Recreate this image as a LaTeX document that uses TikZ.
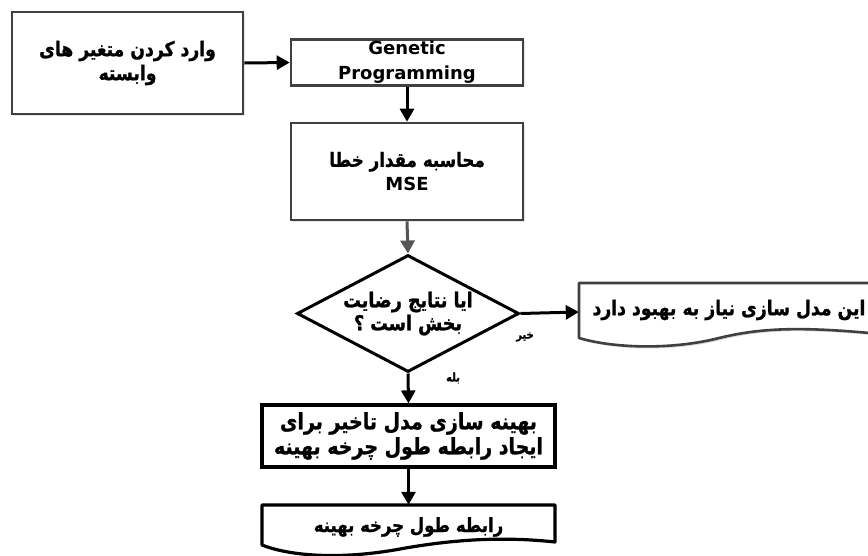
\documentclass[tikz,border=0pt]{standalone}
\usepackage{fontspec}
\usepackage{graphicx}
\usetikzlibrary{arrows.meta,shapes.geometric,shadows}
\TeXXeTstate=1
\newfontfamily\fafont[Script=Arabic,BoldFeatures={FakeBold=1.2}]{DejaVu Sans}
\newfontfamily\lafont{DejaVu Sans}
\newcommand\fa[1]{\scalebox{1}[1.18]{\beginR#1\endR}}
\definecolor{bgray}{RGB}{64,64,64}
\definecolor{agray}{RGB}{85,85,85}
\begin{document}
\begin{tikzpicture}[x=1pt,y=-1pt,
  fatxt/.style={font=\fafont\bfseries\fontsize{#1}{24}\selectfont},
  upbox/.style={draw=bgray,fill=white,line width=2.6pt,rectangle,inner sep=0pt,align=center,
    drop shadow={opacity=0.18,shadow xshift=1.5pt,shadow yshift=-1.5pt}},
  lowbox/.style={draw=black,fill=white,line width=3.2pt,rectangle,inner sep=0pt,align=center},
  arr/.style={line width=3pt,-{Triangle[length=13pt,width=14pt]}},
  lbl/.style={font=\fafont\bfseries\fontsize{10}{12}\selectfont,inner sep=0pt}
]
\useasboundingbox (0,0) rectangle (868,555);
\clip (0,0) rectangle (868,555);
\fill[white] (0,0) rectangle (868,555);

% input box
\node[upbox,minimum width=231pt,minimum height=102pt,fatxt=17.2] (inp) at (127.5,63)
  {\fa{وارد کردن متغیر های}\\\fa{وابسته}};
% GP box
\node[upbox,minimum width=232pt,minimum height=46pt,
  font=\lafont\bfseries\fontsize{18}{26}\selectfont] (gp) at (407,62.5)
  {Genetic\\[-1pt]Programming};
% MSE box
\node[upbox,minimum width=232pt,minimum height=97pt,fatxt=16.7] (mse) at (407,171.5)
  {\fa{محاسبه مقدار خطا}\\{\lafont\bfseries\fontsize{18}{24}\selectfont MSE}};
% decision
\node[diamond,draw=black,fill=white,line width=3pt,aspect=1.9,inner sep=0pt,
  minimum width=222pt,minimum height=117pt,align=center,
  font=\fafont\bfseries\fontsize{17.5}{23}\selectfont] (dec) at (408,313.5)
  {\fa{ایا نتایج رضایت}\\\fa{بخش است ؟}};
% document: needs improvement
\node[rectangle,inner sep=0pt,minimum width=300pt,minimum height=56pt] (doca) at (729,312) {};
\fill[black,opacity=0.15] (581,285) -- (882,285) -- (882,336)
  .. controls (800,328) and (760,330) .. (717,341)
  .. controls (670,352) and (615,350) .. (581,340) -- cycle;
\draw[bgray,fill=white,line width=2.6pt,line join=round] (579,283) -- (880,283) -- (880,334)
  .. controls (798,326) and (758,328) .. (715,339)
  .. controls (668,350) and (613,348) .. (579,338) -- cycle;
\node[rectangle,inner sep=0pt,font=\fafont\bfseries\fontsize{17.2}{20}\selectfont] at (729,310)
  {\fa{این مدل سازی نیاز به بهبود دارد}};
% optimisation box
\node[lowbox,minimum width=293pt,minimum height=62pt,
  font=\fafont\bfseries\fontsize{19}{25}\selectfont] (opt) at (408.5,436)
  {\fa{بهینه سازی مدل تاخیر برای}\\\fa{ایجاد رابطه طول چرخه بهینه}};
% final document
\node[rectangle,inner sep=0pt,minimum width=293pt,minimum height=44pt] (docb) at (408.5,527) {};
\draw[black,fill=white,line width=3.2pt,line join=round] (262,505) -- (555,505) -- (555,542)
  .. controls (500,536) and (450,540) .. (400,549)
  .. controls (340,560) and (290,556) .. (262,545) -- cycle;
\node[rectangle,inner sep=0pt,font=\fafont\bfseries\fontsize{16.5}{20}\selectfont] at (docb)
  {\fa{رابطه طول چرخه بهینه}};

% connectors
\draw[arr] (inp.east) -- (gp.west);
\draw[arr] (gp.south) -- (mse.north);
\draw[arr,agray] (mse.south) -- (dec.north);
\draw[arr] (dec.east) -- (doca.west);
\draw[arr] (dec.south) -- (opt.north);
\draw[arr] (opt.south) -- (docb.north);

% labels
\node[lbl] (no) at (525,337) {\fa{خیر}};
\node[lbl] (yes) at (453,378) {\fa{بله}};
\end{tikzpicture}
\end{document}
